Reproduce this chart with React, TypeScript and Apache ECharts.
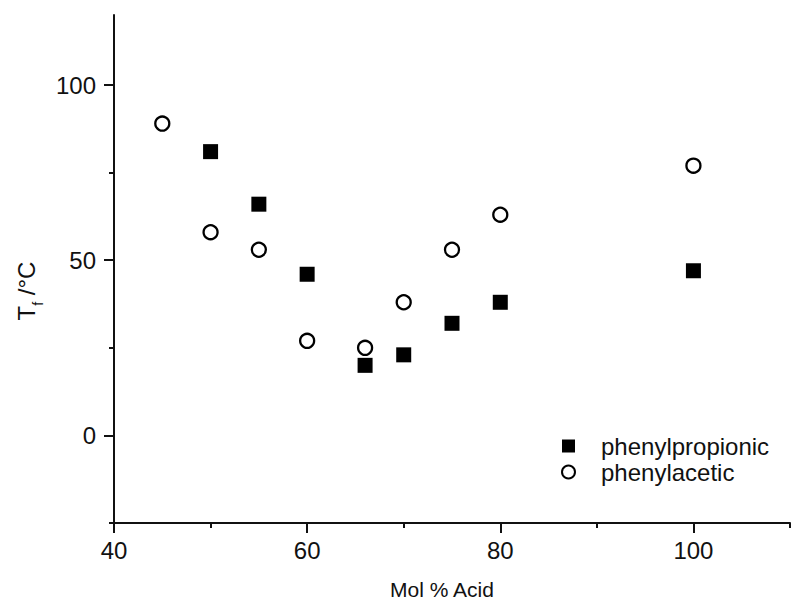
import React, { useEffect, useRef } from 'react';
import * as echarts from 'echarts';

const xMajorTicks = [40, 60, 80, 100];
const xMinorTicks = [50, 70, 90, 110];
const yMajorTicks = [0, 50, 100];
const yMinorTicks = [-25, 25, 75];

const seriesNames = ['phenylpropionic', 'phenylacetic'];
const propionicX = [50, 55, 60, 66, 70, 75, 80, 100];
const propionicY = [81, 66, 46, 20, 23, 32, 38, 47];
const aceticX = [45, 50, 55, 60, 66, 70, 75, 80, 100];
const aceticY = [89, 58, 53, 27, 25, 38, 53, 63, 77];
const xTitle = 'Mol % Acid';
const yTitle = '{t|T}{s|f}{t| /°C}';

const FONT = '"Liberation Sans", Arial, Helvetica, sans-serif';
const INK = '#111';

export default function App() {
  const ref = useRef<HTMLDivElement>(null);
  useEffect(() => {
    if (!ref.current) return;
    const chart = echarts.init(ref.current, null, { renderer: 'svg' });
    const lineStyle = { color: INK, width: 2 };
    const xBase = { type: 'value', min: 40, max: 110, position: 'bottom', splitLine: { show: false } };
    const yBase = { type: 'value', min: -25, max: 120, position: 'left', splitLine: { show: false } };
    chart.setOption({
      animation: false,
      backgroundColor: '#fff',
      textStyle: { fontFamily: FONT, color: INK },
      title: {
        text: xTitle,
        left: 390,
        top: 579,
        padding: 0,
        textStyle: { fontSize: 21, fontWeight: 'normal', color: INK, fontFamily: FONT },
      },
      grid: { left: 114, top: 15, right: 2, bottom: 80, containLabel: false, outerBoundsMode: 'none' },
      xAxis: [
        {
          ...xBase,
          axisLine: { show: true, onZero: false, lineStyle },
          axisTick: { show: true, customValues: xMajorTicks, length: 10, lineStyle },
          axisLabel: { show: true, customValues: xMajorTicks, margin: 15, fontSize: 24, color: INK, fontFamily: FONT },
        },
        {
          ...xBase,
          axisLine: { show: false, onZero: false },
          axisTick: { show: true, customValues: xMinorTicks, length: 5, lineStyle },
          axisLabel: { show: false },
        },
      ],
      yAxis: [
        {
          ...yBase,
          name: yTitle,
          nameLocation: 'middle',
          nameGap: 73,
          nameRotate: 90,
          nameTextStyle: {
            color: INK,
            fontFamily: FONT,
            padding: [0, 44, 0, 0],
            rich: {
              t: { fontSize: 24, fontFamily: FONT, color: INK, lineHeight: 30, verticalAlign: 'middle' },
              s: { fontSize: 14, fontFamily: FONT, color: INK, lineHeight: 14, verticalAlign: 'bottom', padding: [0, 0, -4, 0] },
            },
          },
          axisLine: { show: true, onZero: false, lineStyle },
          axisTick: { show: true, customValues: yMajorTicks, length: 10, lineStyle },
          axisLabel: { show: true, customValues: yMajorTicks, margin: 18, fontSize: 24, color: INK, fontFamily: FONT },
        },
        {
          ...yBase,
          axisLine: { show: false, onZero: false },
          axisTick: { show: true, customValues: yMinorTicks, length: 5, lineStyle },
          axisLabel: { show: false },
        },
      ],
      legend: {
        orient: 'vertical',
        left: 556,
        top: 429,
        itemWidth: 13,
        itemHeight: 13,
        itemGap: 2,
        data: seriesNames,
        textStyle: { fontSize: 24, color: INK, fontFamily: FONT, lineHeight: 24, padding: [0, 0, 0, 21] },
      },
      series: [
        {
          name: seriesNames[0],
          type: 'scatter',
          symbol: 'rect',
          symbolSize: 15,
          itemStyle: { color: '#000', opacity: 1 },
          data: propionicX.map((x, i) => [x, propionicY[i]]),
        },
        {
          name: seriesNames[1],
          type: 'scatter',
          symbol: 'circle',
          symbolSize: 14,
          itemStyle: { color: '#fff', borderColor: '#000', borderWidth: 2.3, opacity: 1 },
          data: aceticX.map((x, i) => [x, aceticY[i]]),
        },
      ],
    });
    return () => chart.dispose();
  }, []);
  return <div ref={ref} style={{ position: 'absolute', left: 0, top: 0, width: 792, height: 603 }} />;
}
